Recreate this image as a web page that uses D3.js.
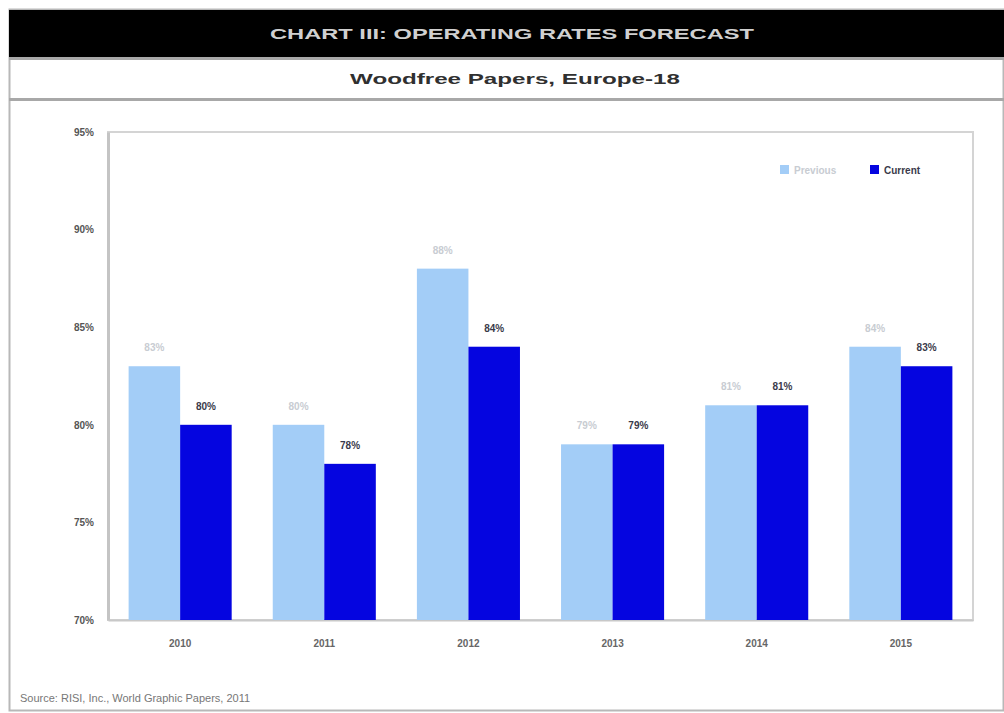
<!DOCTYPE html>
<html>
<head>
<meta charset="utf-8">
<script src="https://cdn.jsdelivr.net/npm/d3@7/dist/d3.min.js"></script>
<style>
  html, body { margin: 0; padding: 0; background: #ffffff; }
  svg { display: block; font-family: "Liberation Sans", Arial, sans-serif; }
</style>
</head>
<body>
<svg id="chart" width="1004" height="713"></svg>
<script>
// Operating rates (%) by year, previous vs current forecast
const categories = ["2010", "2011", "2012", "2013", "2014", "2015"];
const seriesNames = ["Previous", "Current"];
const previousRates = [83, 80, 88, 79, 81, 84];
const currentRates = [80, 78, 84, 79, 81, 83];
const yTicks = [70, 75, 80, 85, 90, 95];

const titleText = "CHART III: OPERATING RATES FORECAST";
const subtitleText = "Woodfree Papers, Europe-18";
const sourceText = "Source: RISI, Inc., World Graphic Papers, 2011";

const colors = ["#a3cdf7", "#0505e0"];
const labelColors = ["#c8ccd2", "#3a3a4a"];

const svg = d3.select("#chart");
const W = 1004, H = 713;

// Outer frame
svg.append("rect").attr("x", 9.5).attr("y", 9.5).attr("width", W - 10).attr("height", H - 12)
  .attr("fill", "#ffffff").attr("stroke", "#b8b8b8").attr("stroke-width", 2);

// Title band
svg.append("rect").attr("x", 9).attr("y", 10).attr("width", W - 9).attr("height", 47).attr("fill", "#000000");
svg.append("text").attr("x", 512).attr("y", 39).attr("text-anchor", "middle")
  .attr("fill", "#d0d0d0").attr("font-size", 15).attr("font-weight", "bold")
  .attr("textLength", 484).attr("lengthAdjust", "spacingAndGlyphs")
  .text(titleText);

// Subtitle band
svg.append("rect").attr("x", 9).attr("y", 57).attr("width", W - 9).attr("height", 3).attr("fill", "#a8a8a8");
svg.append("rect").attr("x", 9).attr("y", 98).attr("width", W - 9).attr("height", 3).attr("fill", "#a8a8a8");
svg.append("text").attr("x", 515).attr("y", 84).attr("text-anchor", "middle")
  .attr("fill", "#303030").attr("font-size", 15).attr("font-weight", "bold")
  .attr("textLength", 330).attr("lengthAdjust", "spacingAndGlyphs")
  .text(subtitleText);

// Plot area
const plot = { left: 108, right: 973, top: 132, bottom: 620 };

const x0 = d3.scaleBand().domain(categories).range([plot.left, plot.right]).paddingInner(0.285).paddingOuter(0.143);
const x1 = d3.scaleBand().domain(seriesNames).range([0, x0.bandwidth()]).padding(0);
const y = d3.scaleLinear().domain([70, 95]).range([plot.bottom, plot.top]);

svg.append("rect").attr("x", plot.left).attr("y", plot.top)
  .attr("width", plot.right - plot.left).attr("height", plot.bottom - plot.top)
  .attr("fill", "#ffffff").attr("stroke", "#d4d4d4").attr("stroke-width", 2);

// Y axis
const yAxis = svg.append("g").attr("transform", `translate(${plot.left},0)`)
  .call(d3.axisLeft(y).tickValues(yTicks).tickFormat(d => d + "%").tickSize(0).tickPadding(14));
yAxis.select(".domain").attr("stroke", "#c4c4c4").attr("stroke-width", 3);
yAxis.selectAll("text").attr("fill", "#555555").attr("font-size", 10).attr("font-weight", "bold")
  .attr("font-family", "Liberation Sans, Arial, sans-serif");

// X axis
const xAxis = svg.append("g").attr("transform", `translate(0,${plot.bottom})`)
  .call(d3.axisBottom(x0).tickSize(0).tickPadding(20));
xAxis.select(".domain").attr("stroke", "#c8c8c8").attr("stroke-width", 2);
xAxis.selectAll("text").attr("fill", "#666666").attr("font-size", 10).attr("font-weight", "bold")
  .attr("font-family", "Liberation Sans, Arial, sans-serif");

// Bars
const rows = categories.map((c, i) => ({ cat: c, values: [previousRates[i], currentRates[i]] }));
const groups = svg.append("g").selectAll("g").data(rows).join("g")
  .attr("transform", d => `translate(${x0(d.cat)},0)`);

groups.selectAll("rect").data(d => d.values.map((v, k) => ({ name: seriesNames[k], v, k })))
  .join("rect")
  .attr("x", d => x1(d.name))
  .attr("y", d => y(d.v))
  .attr("width", x1.bandwidth())
  .attr("height", d => y(70) - y(d.v))
  .attr("fill", d => colors[d.k]);

groups.selectAll("text.val").data(d => d.values.map((v, k) => ({ name: seriesNames[k], v, k })))
  .join("text").attr("class", "val")
  .attr("x", d => x1(d.name) + x1.bandwidth() / 2)
  .attr("y", d => y(d.v) - 15)
  .attr("text-anchor", "middle")
  .attr("font-size", 10).attr("font-weight", "bold")
  .attr("fill", d => labelColors[d.k])
  .text(d => d.v + "%");

// Legend
const legend = svg.append("g").attr("transform", "translate(780,170)");
seriesNames.forEach((name, k) => {
  const gx = k * 90;
  legend.append("rect").attr("x", gx).attr("y", -5).attr("width", 9).attr("height", 9).attr("fill", colors[k]);
  legend.append("text").attr("x", gx + 14).attr("y", 3.5)
    .attr("font-size", 10).attr("font-weight", "bold").attr("fill", labelColors[k])
    .text(name);
});

// Source note
svg.append("text").attr("x", 20).attr("y", 702)
  .attr("font-size", 11).attr("fill", "#777777")
  .text(sourceText);
</script>
</body>
</html>
